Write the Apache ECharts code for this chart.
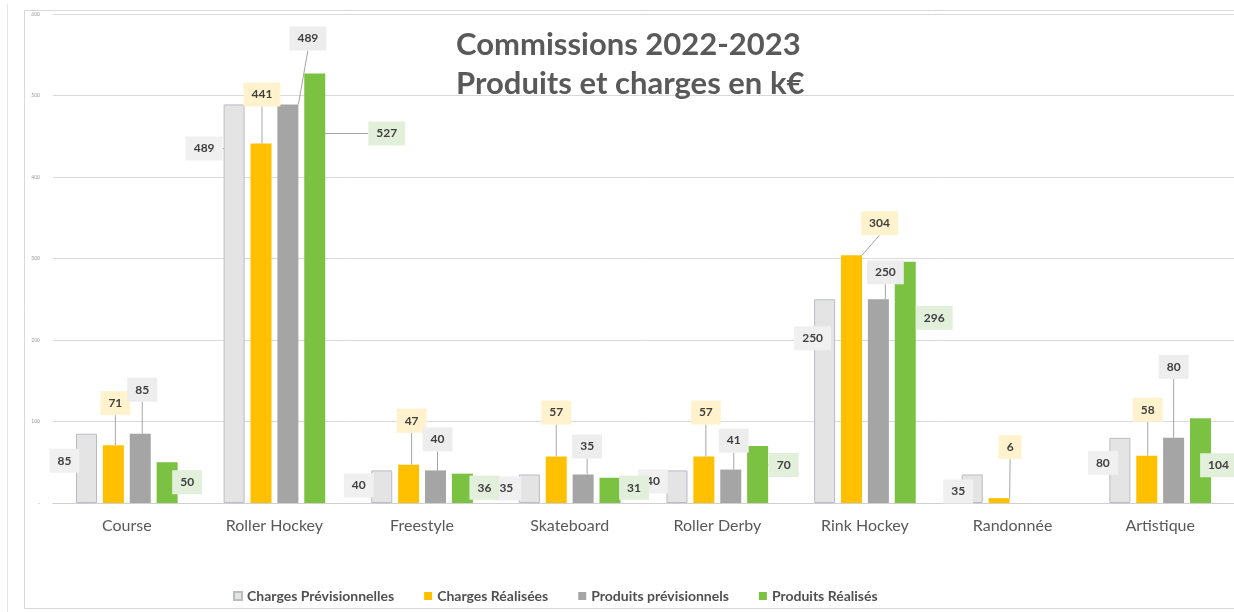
<!DOCTYPE html>
<html>
<head>
<meta charset="utf-8">
<script src="https://cdn.jsdelivr.net/npm/echarts@6/dist/echarts.min.js"></script>
<style>
  html, body { margin: 0; padding: 0; background: #ffffff; }
  #chart { width: 1234px; height: 612px; }
</style>
</head>
<body>
<div id="chart"></div>
<script>
// Commissions 2022-2023: charges and products per commission, in k€
const categories = ['Course', 'Roller Hockey', 'Freestyle', 'Skateboard', 'Roller Derby', 'Rink Hockey', 'Randonnée', 'Artistique'];
const chargesPrevisionnelles = [85, 489, 40, 35, 40, 250, 35, 80];
const chargesRealisees = [71, 441, 47, 57, 57, 304, 6, 58];
const produitsPrevisionnels = [85, 489, 40, 35, 41, 250, null, 80];
const produitsRealises = [50, 527, 36, 31, 70, 296, null, 104];
const yTicks = [0, 100, 200, 300, 400, 500, 600];

// Callout placement: offset of each label centre from the top-centre of its bar
const calloutOffsets = {
  chargesPrev: [[-22, 27], [-30, 44], [-23, 15], [-23, 14], [-24, 11], [-12, 39], [-14, 17], [-17, 25]],
  chargesReal: [[2, -42], [1, -49], [3, -44], [0, -44], [2, -44], [28, -32], [11, -51], [1, -46]],
  produitsPrev: [[2, -44], [20, -66], [2, -31], [4, -28], [3, -29], [7, -27], [0, 0], [0, -71]],
  produitsReal: [[20, 20], [72, 60], [22, 14], [24, 10], [26, 19], [29, 56], [0, 0], [18, 47]]
};

const FONT = 'Lato, "Open Sans", sans-serif';

function makeSeries(name, data, color, calloutBg, offsets, border) {
  return {
    name: name,
    type: 'bar',
    data: data,
    barWidth: 21,
    barGap: '28%',
    itemStyle: border
      ? { color: color, borderColor: border, borderWidth: 1 }
      : { color: color },
    label: {
      show: true,
      position: 'top',
      color: '#404040',
      fontFamily: FONT,
      fontWeight: 'bold',
      fontSize: 12,
      backgroundColor: calloutBg,
      padding: [6, 8]
    },
    labelLine: {
      show: true,
      lineStyle: { color: '#a6a6a6', width: 1 }
    },
    labelLayout: function (p) {
      const o = offsets[p.dataIndex] || [0, 0];
      return {
        x: p.rect.x + p.rect.width / 2 + o[0],
        y: p.rect.y + o[1],
        align: 'center',
        verticalAlign: 'middle'
      };
    },
    emphasis: { disabled: true }
  };
}

const chart = echarts.init(document.getElementById('chart'), null, { renderer: 'canvas' });

chart.setOption({
  animation: false,
  backgroundColor: '#ffffff',
  title: {
    text: 'Commissions 2022-2023\nProduits et charges en k€',
    left: 451,
    top: 20,
    textStyle: {
      fontFamily: FONT,
      fontWeight: 'bold',
      fontSize: 31,
      lineHeight: 39,
      color: '#595959'
    }
  },
  legend: {
    bottom: 4,
    left: 228,
    icon: 'rect',
    itemWidth: 8,
    itemHeight: 8,
    itemGap: 30,
    textStyle: { fontFamily: FONT, fontWeight: 'bold', fontSize: 14, color: '#505050' },
    data: ['Charges Prévisionnelles', 'Charges Réalisées', 'Produits prévisionnels', 'Produits Réalisés']
  },
  grid: { left: 53, top: 14, width: 1186, height: 489, containLabel: false },
  xAxis: {
    type: 'category',
    data: categories,
    axisLine: { lineStyle: { color: '#d0d0d0' } },
    axisTick: { show: false },
    axisLabel: { fontFamily: FONT, fontSize: 16, color: '#595959', margin: 15 }
  },
  yAxis: {
    type: 'value',
    min: yTicks[0],
    max: yTicks[yTicks.length - 1],
    interval: yTicks[1] - yTicks[0],
    axisLine: { show: false },
    axisTick: { show: false },
    splitLine: { lineStyle: { color: '#d9d9d9', width: 1 } },
    axisLabel: {
      fontFamily: FONT,
      fontSize: 5,
      color: '#9a9a9a',
      margin: 13,
      formatter: function (v) { return v === 0 ? '-' : String(v); }
    }
  },
  graphic: [
    { type: 'rect', silent: true, z: -1,
      shape: { x: 24.5, y: 10.5, width: 1300, height: 598 },
      style: { fill: 'none', stroke: '#d9d9d9', lineWidth: 1 } },
    { type: 'line', silent: true, z: -1,
      shape: { x1: 7.5, y1: 4, x2: 7.5, y2: 612 },
      style: { stroke: '#e6e6e6', lineWidth: 1 } }
  ],
  series: [
    makeSeries('Charges Prévisionnelles', chargesPrevisionnelles, '#e4e4e4', '#f0f0f0', calloutOffsets.chargesPrev, '#b9bcc4'),
    makeSeries('Charges Réalisées', chargesRealisees, '#ffc000', '#fff2cc', calloutOffsets.chargesReal),
    makeSeries('Produits prévisionnels', produitsPrevisionnels, '#a5a5a5', '#ededed', calloutOffsets.produitsPrev),
    makeSeries('Produits Réalisés', produitsRealises, '#7cc242', '#e2efda', calloutOffsets.produitsReal)
  ]
});
</script>
</body>
</html>
